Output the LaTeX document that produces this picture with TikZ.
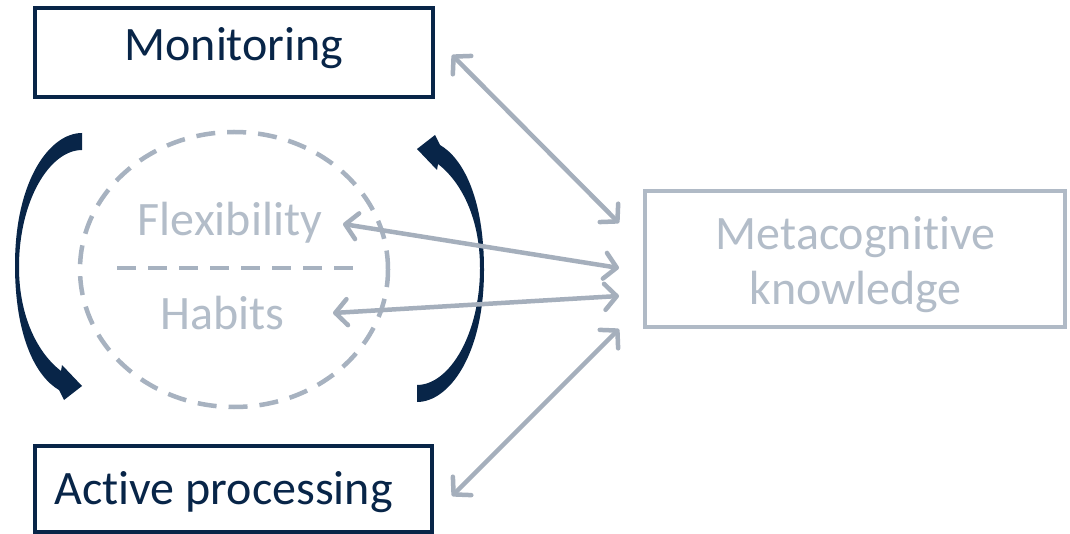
\documentclass[tikz,border=0pt]{standalone}
\usepackage{fontspec}
\setmainfont{Carlito}[Ligatures={NoCommon}]
\usetikzlibrary{arrows.meta,shapes.geometric}
\definecolor{navy}{HTML}{082548}
\definecolor{greyline}{HTML}{A5AFBC}
\definecolor{greytext}{HTML}{B3BDC9}
\definecolor{greybox}{HTML}{B0BAC6}
\definecolor{greydash}{HTML}{A7B2C0}
\begin{document}
\begin{tikzpicture}[x=1pt,y=-1pt,
  darkbox/.style={draw=navy,line width=4pt,inner sep=0pt,outer sep=0pt},
  lightbox/.style={draw=greybox,line width=4.5pt,inner sep=0pt,outer sep=0pt},
  lbl/.style={font=\fontsize{48}{55}\selectfont,anchor=base,inner sep=0pt},
  darklbl/.style={lbl,text=navy},
  lightlbl/.style={lbl,text=greytext},
  dashline/.style={draw=greydash,line width=4.5pt,dash pattern=on 19pt off 12pt},
  biarrow/.style={draw=greyline,line width=4.5pt,line cap=round,
    {Straight Barb[length=12pt,width=26pt,line cap=round,line join=round]}-{Straight Barb[length=12pt,width=26pt,line cap=round,line join=round]}},
  curvearrow/.style={fill=navy,draw=none}
]
\useasboundingbox[fill=white] (0,0) rectangle (1070,534);

% boxes
\node[darkbox,minimum width=398pt,minimum height=89pt] (mon) at (234,52.5) {};
\node[darkbox,minimum width=397pt,minimum height=86pt] (act) at (233.5,489) {};
\node[lightbox,minimum width=420pt,minimum height=136pt] (meta) at (855,259) {};

% labels
\node[darklbl] (monT) at (234,61) {Monitoring};
\node[darklbl] (actT) at (223.5,504) {Active processing};
\node[lightlbl] (metaT1) at (855.5,250) {Metacognitive};
\node[lightlbl] (metaT2) at (855.5,305) {knowledge};

% dashed ellipse with divider
\node[dashline,ellipse,minimum width=308pt,minimum height=275pt,inner sep=0pt] (ell) at (234,269.5) {};
\coordinate (divL) at (117,268);
\coordinate (divR) at (356,268);
\draw[dashline] (divL) -- (divR);
\node[lightlbl] (flex) at (230,236) {Flexibility};
\node[lightlbl] (hab) at (222.5,330) {Habits};

% curved arrows
\path[curvearrow] (82,133) .. controls (50,133) and (15,180) .. (15,265)
  .. controls (15,335) and (35,376) .. (59,390) -- (64,400) -- (82,386) -- (62,365) -- (61,371)
  .. controls (40,355) and (19,320) .. (19,267)
  .. controls (19,200) and (50,150) .. (82,150) -- cycle;
\begin{scope}[rotate around={180:(249.5,267.5)}]
\path[curvearrow] (82,133) .. controls (50,133) and (15,180) .. (15,265)
  .. controls (15,335) and (35,376) .. (59,390) -- (64,400) -- (82,386) -- (62,365) -- (61,371)
  .. controls (40,355) and (19,320) .. (19,267)
  .. controls (19,200) and (50,150) .. (82,150) -- cycle;
\end{scope}

% grey connectors
\coordinate (monE) at (452,55);
\coordinate (metaA) at (619,223);
\coordinate (flexE) at (343,224);
\coordinate (metaB) at (619,268);
\coordinate (habE) at (333,313);
\coordinate (metaC) at (619,296);
\coordinate (actE) at (452,496);
\coordinate (metaD) at (619,329);
\draw[biarrow] (monE) -- (metaA);
\draw[biarrow] (flexE) -- (metaB);
\draw[biarrow] (habE) -- (metaC);
\draw[biarrow] (actE) -- (metaD);
\end{tikzpicture}
\end{document}
